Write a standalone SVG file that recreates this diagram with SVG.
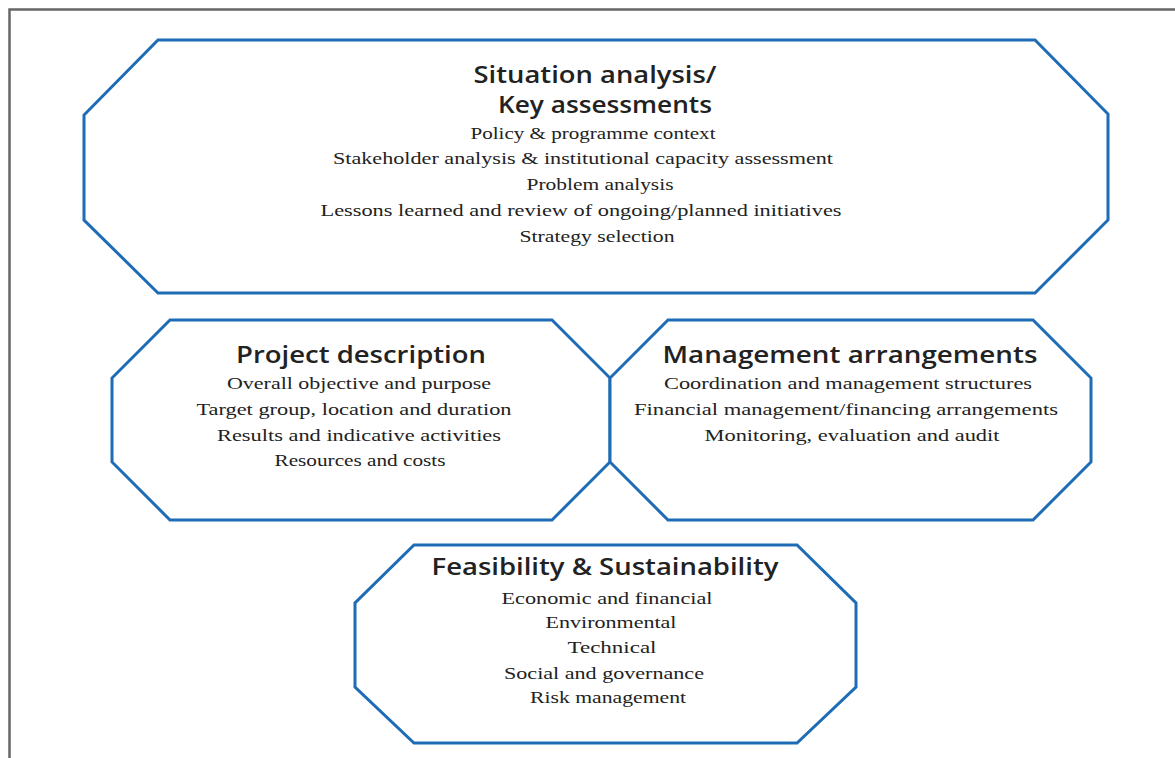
<svg xmlns="http://www.w3.org/2000/svg" width="1175" height="758" viewBox="0 0 1175 758">
<style>
.oct{fill:#fff;stroke:#1f6cb6;stroke-width:3;stroke-linejoin:miter}
.t{font-family:"Open Sans","Liberation Sans",Arial,sans-serif;font-weight:600;font-size:23px;fill:#222;text-anchor:middle}
.b{font-family:"Liberation Serif","Times New Roman",serif;font-size:17px;fill:#222;text-anchor:middle}
</style>
<rect width="1175" height="758" fill="#fff"/>
<path d="M9.5,758 V9.5 H1175" fill="none" stroke="#666" stroke-width="2.5"/>
<g id="connectors"></g>
<g id="situation">
<polygon class="oct" points="158,40 1035,40 1108,114 1108,220 1035,293 158,293 84,220 84,115"/>
<text class="t" x="595" y="83" textLength="243" lengthAdjust="spacingAndGlyphs">Situation analysis/</text>
<text class="t" x="605" y="113" textLength="214" lengthAdjust="spacingAndGlyphs">Key assessments</text>
<text class="b" x="593" y="139" textLength="245" lengthAdjust="spacingAndGlyphs">Policy &amp; programme context</text>
<text class="b" x="583" y="164" textLength="500" lengthAdjust="spacingAndGlyphs">Stakeholder analysis &amp; institutional capacity assessment</text>
<text class="b" x="600" y="190" textLength="147" lengthAdjust="spacingAndGlyphs">Problem analysis</text>
<text class="b" x="581" y="216" textLength="521" lengthAdjust="spacingAndGlyphs">Lessons learned and review of ongoing/planned initiatives</text>
<text class="b" x="597" y="242" textLength="155" lengthAdjust="spacingAndGlyphs">Strategy selection</text>
</g>
<g id="project">
<polygon class="oct" points="170,320 552,320 610,378 610,462 552,520 170,520 112,462 112,378"/>
<text class="t" x="361" y="363" textLength="250" lengthAdjust="spacingAndGlyphs">Project description</text>
<text class="b" x="359" y="389" textLength="264" lengthAdjust="spacingAndGlyphs">Overall objective and purpose</text>
<text class="b" x="354" y="415" textLength="315" lengthAdjust="spacingAndGlyphs">Target group, location and duration</text>
<text class="b" x="359" y="441" textLength="284" lengthAdjust="spacingAndGlyphs">Results and indicative activities</text>
<text class="b" x="360" y="466" textLength="171" lengthAdjust="spacingAndGlyphs">Resources and costs</text>
</g>
<g id="management">
<polygon class="oct" points="668,320 1033,320 1091,378 1091,462 1033,520 668,520 610,462 610,378"/>
<text class="t" x="850" y="363" textLength="375" lengthAdjust="spacingAndGlyphs">Management arrangements</text>
<text class="b" x="848" y="389" textLength="368" lengthAdjust="spacingAndGlyphs">Coordination and management structures</text>
<text class="b" x="846" y="415" textLength="424" lengthAdjust="spacingAndGlyphs">Financial management/financing arrangements</text>
<text class="b" x="852" y="441" textLength="295" lengthAdjust="spacingAndGlyphs">Monitoring, evaluation and audit</text>
</g>
<g id="feasibility">
<polygon class="oct" points="414,545 797,545 856,603 856,687 797,743 414,743 355,687 355,603"/>
<text class="t" x="605" y="575" textLength="347" lengthAdjust="spacingAndGlyphs">Feasibility &amp; Sustainability</text>
<text class="b" x="607" y="604" textLength="211" lengthAdjust="spacingAndGlyphs">Economic and financial</text>
<text class="b" x="611" y="628" textLength="131" lengthAdjust="spacingAndGlyphs">Environmental</text>
<text class="b" x="612" y="653" textLength="89" lengthAdjust="spacingAndGlyphs">Technical</text>
<text class="b" x="604" y="679" textLength="200" lengthAdjust="spacingAndGlyphs">Social and governance</text>
<text class="b" x="608" y="703" textLength="156" lengthAdjust="spacingAndGlyphs">Risk management</text>
</g>
</svg>
